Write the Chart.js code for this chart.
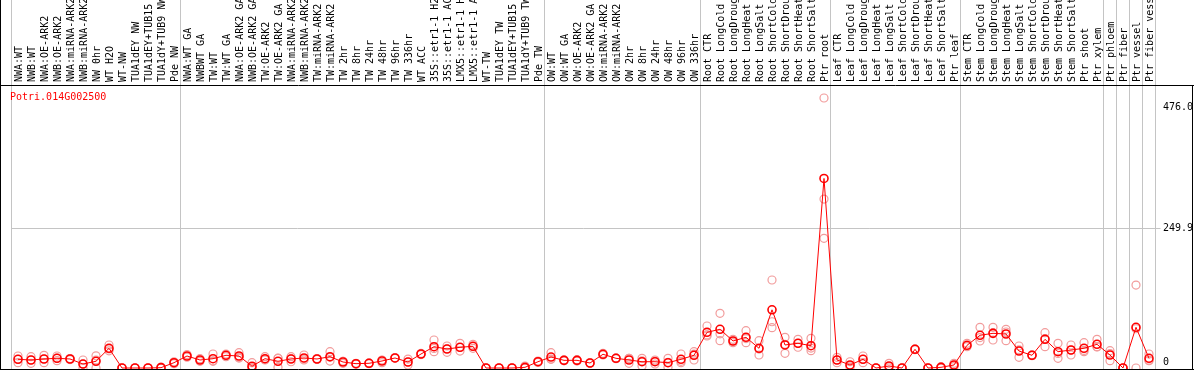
<!DOCTYPE html>
<html>
<head>
<meta charset="utf-8">
<script src="https://cdn.jsdelivr.net/npm/chart.js@4"></script>
<style>
html, body { margin: 0; padding: 0; background: #fff; }
#wrap { position: relative; width: 1194px; height: 370px; }
#gene { position: absolute; left: 10px; top: 91px; font: 10px "DejaVu Sans Mono", monospace; color: #ff0000; }
</style>
</head>
<body>
<div id="wrap">
  <canvas id="chart" width="1194" height="370"></canvas>
  <div id="gene">Potri.014G002500</div>
</div>
<script>
// sample names (x axis, top)
const categories = [
    "NWA:WT", "NWB:WT", "NWA:OE-ARK2", "NWB:OE-ARK2", "NWA:miRNA-ARK2", "NWB:miRNA-ARK2",
    "NW 0hr", "WT H2O", "WT-NW", "TUA1dEY NW", "TUA1dEY+TUB15 NW", "TUA1dY+TUB9 NW", "Pde NW",
    "NWA:WT GA", "NWBWT GA", "TW:WT", "TW:WT GA", "NWA:OE-ARK2 GA", "NWB:OE-ARK2 GA", "TW:OE-ARK2",
    "TW:OE-ARK2 GA", "NWA:miRNA-ARK2 GA", "NWB:miRNA-ARK2 GA", "TW:miRNA-ARK2", "TW:miRNA-ARK2",
    "TW 2hr", "TW 8hr", "TW 24hr", "TW 48hr", "TW 96hr", "TW 336hr", "WT ACC",
    "35S::etr1-1 H2O", "35S::etr1-1 ACC", "LMX5::etr1-1 H2O", "LMX5::etr1-1 ACC",
    "WT-TW", "TUA1dEY TW", "TUA1dEY+TUB15 TW", "TUA1dY+TUB9 TW", "Pde TW",
    "OW:WT", "OW:WT GA", "OW:OE-ARK2", "OW:OE-ARK2 GA", "OW:miRNA-ARK2", "OW:miRNA-ARK2",
    "OW 2hr", "OW 8hr", "OW 24hr", "OW 48hr", "OW 96hr", "OW 336hr",
    "Root CTR", "Root LongCold", "Root LongDrought", "Root LongHeat", "Root LongSalt",
    "Root ShortCold", "Root ShortDrought", "Root ShortHeat", "Root ShortSalt", "Ptr root",
    "Leaf CTR", "Leaf LongCold", "Leaf LongDrought", "Leaf LongHeat", "Leaf LongSalt",
    "Leaf ShortCold", "Leaf ShortDrought", "Leaf ShortHeat", "Leaf ShortSalt", "Ptr leaf",
    "Stem CTR", "Stem LongCold", "Stem LongDrought", "Stem LongHeat", "Stem LongSalt",
    "Stem ShortCold", "Stem ShortDrought", "Stem ShortHeat", "Stem ShortSalt", "Ptr shoot",
    "Ptr xylem", "Ptr phloem", "Ptr fiber", "Ptr vessel", "Ptr fiber vessel"
];

// mean expression (red line)
const meanValues = [
    15.5, 14.3, 16.1, 17.3, 16.1, 7.1, 12, 35.2, 0, 0, 0, 0.6, 9.5,
    21.4, 14.3, 16.6, 22.7, 21.4, 3.2, 16.6, 12, 16.1, 17.9, 16.1, 20.2, 10.7,
    7.7, 8.4, 12.5, 17.9, 10.7, 25, 38, 33.9, 37, 38.7, 0, 0, 0, 1.2, 11.2,
    19.6, 13.7, 13.7, 8.9, 24.5, 17.3, 14.3, 11.2, 11.2, 9.5, 15.5, 22.7,
    63.7, 69.1, 48.2, 54.8, 35.2, 103.9, 41.1, 44.1, 39.8, 338.4,
    14.3, 5.4, 15.5, 0, 3.6, 0, 33.4, 0, 1.2, 5.4,
    40.5, 58.4, 61.9, 60.7, 30.3, 22.7, 51.2, 29.1, 32.1, 35.2, 42.3,
    23.2, 0, 72.7, 17.3
];

// replicates (pink circles)
const rep1 = [
    21.4, 8.4, 22.7, 21.4, 17, 14.3, 14.3, 41.1, 0, 0, 0, 0, 11.2,
    24, 14.3, 25, 25, 27.3, 9.5, 20.2, 17.3, 20.2, 23.2, 17, 29.1, 8.4,
    7.7, 8.4, 14.3, 18.5, 5.4, 26, 50, 39.3, 44.1, 42.3, 0, 0, 0, 3.6, 11.2,
    27.3, 13.7, 13.7, 8.9, 26.2, 17.3, 17.3, 17.3, 14.3, 17.3, 25, 29.1,
    75, 97.6, 45.2, 66.6, 48.7, 157.1, 54.8, 51.2, 53, 482,
    19.1, 11.2, 21.4, 0, 8.4, 0, 33.4, 0, 1.2, 8.4,
    44.1, 72.6, 72.6, 69.1, 39.3, 22.7, 63, 44.1, 41.1, 45.2, 51.2,
    30.9, 0, 148, 25
];
const rep2 = [
    9.5, 14.3, 16.1, 13, 15, 0, 0, 33.9, 0, 0, 0, 0, 9.5,
    21, 12, 12, 20.2, 19.1, 0, 14.3, 1.2, 11.2, 14.3, 15.5, 19.1, 12,
    8.5, 9, 9.5, 17.3, 10.7, 24, 29.1, 28, 30.3, 35.2, 0, 0, 0, 0, 10,
    15.5, 14.5, 12.5, 9.5, 24, 18, 8.4, 3.6, 7.1, 1.2, 9.5, 14.3,
    57.1, 48.7, 48.2, 45.2, 23.2, 82.6, 26.2, 44.1, 30.9, 301.6,
    9.5, 1.2, 9.5, 0, 0, 0, 34, 0, 0, 5.4,
    38, 48.2, 50, 48.7, 19.1, 23.5, 38, 17.3, 23.2, 29.1, 38,
    13, 0, 0, 13
];
const rep3 = [
    15.6, 20.2, 9.5, 17.5, 16.3, 7, 21.7, 30.6, 0, 0, 0, 1.8, 7.8,
    19.2, 16.6, 12.8, 22.9, 17.8, 0.1, 15.3, 17.5, 16.9, 16.2, 15.8, 12.4, 11.7,
    6.9, 7.8, 13.7, 17.9, 16, 25, 34.9, 34.4, 36.6, 38.6, 0, 0, 0, 0, 12.4,
    16, 12.9, 14.9, 8.3, 23.3, 16.6, 17.2, 12.7, 12.2, 10, 12, 24.7,
    59, 61, 51.2, 52.6, 33.7, 71.9, 42.3, 37, 35.5, 231.5,
    14.3, 3.8, 15.6, 0, 2.4, 0, 32.8, 0, 2.4, 2.4,
    39.4, 54.4, 63.1, 64.3, 32.5, 21.9, 52.6, 25.9, 32, 31.3, 37.7,
    25.7, 0, 70.1, 13.9
];

// y axis ticks (right side)
const yTickValues = [0, 249.9, 476.0];
const yTickLabels = [["0", ""], "249.9", ["", "476.0"]];

// group separators: index of first sample after each divider
const separatorIndex = [0, 13, 41, 53, 63, 73, 84, 85, 86, 87];

const FONT = { family: "'DejaVu Sans Mono', monospace", size: 10 };
const SEP_GRAY = '#c4c4c4';

function sepColor(ctx) {
    if (ctx.index === undefined) return SEP_GRAY; // line after last sample
    return separatorIndex.includes(ctx.index) ? SEP_GRAY : 'rgba(0,0,0,0)';
}

const framePlugin = {
    id: 'frame',
    afterDraw(chart) {
        const { ctx, chartArea, width, height } = chart;
        ctx.save();
        ctx.strokeStyle = '#000';
        ctx.lineWidth = 1;
        ctx.beginPath();
        ctx.moveTo(0.5, 0); ctx.lineTo(0.5, height);
        ctx.moveTo(0, chartArea.top + 0.5); ctx.lineTo(width, chartArea.top + 0.5);
        ctx.moveTo(width - 1.5, chartArea.top); ctx.lineTo(width - 1.5, height);
        ctx.moveTo(0, height - 0.5); ctx.lineTo(width, height - 0.5);
        ctx.stroke();
        ctx.restore();
    }
};

function repSet(data) {
    return {
        data: data,
        showLine: false,
        pointRadius: 4,
        pointBorderWidth: 1.2,
        pointBorderColor: '#f29c9c',
        pointBackgroundColor: 'rgba(0,0,0,0)'
    };
}

new Chart(document.getElementById('chart'), {
    type: 'line',
    data: {
        labels: categories,
        datasets: [
            {
                data: meanValues,
                borderColor: '#ff0000',
                borderWidth: 1,
                tension: 0,
                pointRadius: 4,
                pointBorderWidth: 1.6,
                pointBorderColor: '#ff0000',
                pointBackgroundColor: 'rgba(0,0,0,0)'
            },
            repSet(rep1),
            repSet(rep2),
            repSet(rep3)
        ]
    },
    options: {
        responsive: false,
        animation: false,
        devicePixelRatio: 1,
        layout: { autoPadding: false, padding: { left: 11.5, right: 0, top: 0, bottom: 1 } },
        plugins: {
            legend: { display: false },
            tooltip: { enabled: false },
            title: { display: false }
        },
        scales: {
            x: {
                type: 'category',
                position: 'top',
                offset: true,
                grid: {
                    offset: true,
                    color: sepColor,
                    tickColor: sepColor,
                    drawTicks: true,
                    tickLength: 85,
                    lineWidth: 1
                },
                border: { display: false },
                ticks: {
                    autoSkip: false,
                    minRotation: 90,
                    maxRotation: 90,
                    padding: -82,
                    labelOffset: 13,
                    color: '#000',
                    font: FONT
                },
                afterFit: (s) => {
                    s.height = 85;
                    s.paddingLeft = 0;
                    s.paddingRight = 0;
                }
            },
            y: {
                position: 'right',
                min: -1.785,
                max: 505.2,
                grid: {
                    color: (ctx) => ctx.index === 1 ? SEP_GRAY : 'rgba(0,0,0,0)',
                    tickColor: (ctx) => ctx.index === 1 ? SEP_GRAY : 'rgba(0,0,0,0)',
                    drawTicks: true,
                    tickLength: 5
                },
                border: { display: false },
                afterBuildTicks: (axis) => {
                    axis.ticks = yTickValues.map(v => ({ value: v }));
                },
                ticks: {
                    padding: 2.5,
                    color: '#000',
                    font: FONT,
                    callback: (value, index) => yTickLabels[index]
                },
                afterFit: (s) => {
                    s.width = 38.5;
                    s.paddingTop = 0;
                    s.paddingBottom = 0;
                }
            }
        }
    },
    plugins: [framePlugin]
});
</script>
</body>
</html>
